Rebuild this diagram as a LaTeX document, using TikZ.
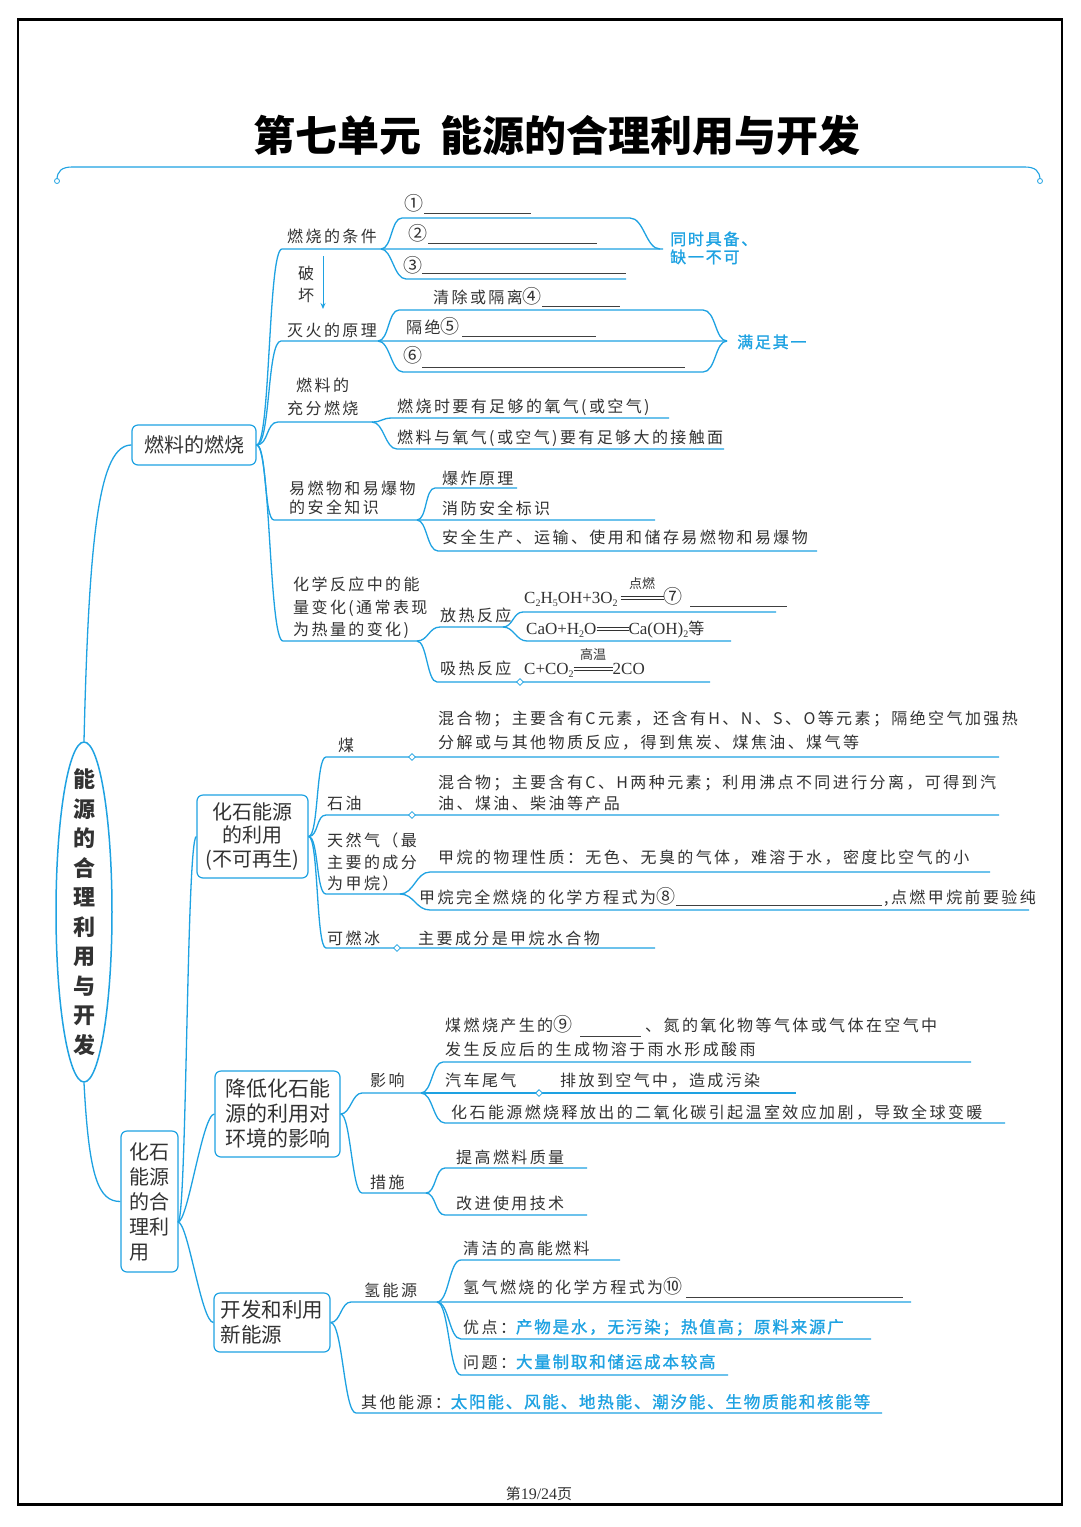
\documentclass[tikz,border=0pt]{standalone}
\usepackage{fontspec}
\setmainfont{Noto Sans CJK SC}
\newfontfamily\cjk{Noto Sans CJK SC}
\newfontfamily\bodyf[LetterSpace=15]{Noto Sans CJK SC}
\newfontfamily\bluef[LetterSpace=11,FakeBold=1.2]{Noto Sans CJK SC}
\newfontfamily\serf{Liberation Serif}
\usetikzlibrary{shapes.geometric,arrows.meta}
\definecolor{mb}{RGB}{30,162,226}
\definecolor{tc}{RGB}{50,50,50}
\newcommand\sbx[1]{\raisebox{-0.45ex}{\fontsize{10}{10}\selectfont #1}}
\newcommand\eqc[2]{\makebox[#1][l]{\rlap{\raisebox{0.42ex}{\rule{#1}{0.6pt}}}\rlap{\raisebox{0.85ex}{\rule{#1}{0.6pt}}}\raisebox{1.9ex}{\makebox[#1]{\fontsize{13}{13}\cjk #2}}}}
\newcommand\bl[1]{{\color{mb}\fontsize{16.5}{19}\bluef #1}}
\newcommand\cn[1]{{\fontsize{19}{19}\cjk #1}}
\begin{document}
\begin{tikzpicture}[x=1pt,y=-1pt,
  ln/.style={draw=mb,line width=1.3pt},
  bk/.style={draw=black!75,line width=0.9pt},
  t/.style={anchor=base west,inner sep=0,text=tc,font=\fontsize{16}{19}\bodyf},
  bt/.style={anchor=base west,inner sep=0,text=mb,font=\fontsize{16}{19}\bluef},
  eq/.style={anchor=base west,inner sep=0,text=tc,font=\fontsize{17}{20}\serf},
  bx/.style={draw=mb,line width=1.2pt,rounded corners=6pt,text=tc,font=\fontsize{20}{25}\cjk,inner sep=0},
  dm/.style={diamond,draw=mb,fill=white,line width=0.8pt,inner sep=0,minimum size=7pt}]
\useasboundingbox (0,0) rectangle (1080,1527);
\fill[white] (0,0) rectangle (1080,1527);
\draw[line width=2pt] (18,19) rectangle (1062,1505);
\draw[line width=1.5pt] (18,20.5) -- (1062,20.5) (18,1503.5) -- (1062,1503.5);

% title
\node[font=\fontsize{42}{48}\cjk\bfseries,text=black] (title) at (557,135) {第七单元\hspace{0.45em}能源的合理利用与开发};
\draw[ln,line width=1.1pt] (57,180) .. controls (57,171) and (62,167) .. (72,167) coordinate (tl) -- (1025,167) coordinate (tr) .. controls (1035,167) and (1040,171) .. (1040,180);
\draw[mb,line width=0.8pt,fill=white] (57,181) circle (2.5pt) (1040,181) circle (2.5pt);

% root
\node[ellipse,draw=mb,line width=1.5pt,minimum width=56pt,minimum height=340pt,inner sep=0] (root) at (84,912) {};
\node[font=\fontsize{22}{29.5}\cjk\bfseries,align=center,text=tc,inner sep=0] (rootlbl) at (root.center) {能\\源\\的\\合\\理\\利\\用\\与\\开\\发};

% ---------- fuel combustion ----------
\node[bx,minimum width=124pt,minimum height=40pt] (fuel) at (194,445) {燃料的燃烧};
\draw[ln] (root.north) .. controls +(5,-210) and +(-32,0) .. (fuel.west);

\draw[ln] (fuel.east) .. controls +(14,0) and +(-14,0) .. (282,249) coordinate (cA) -- (663,249) coordinate (cB);
\draw[ln] (fuel.east) .. controls +(14,0) and +(-14,0) .. (281,341) coordinate (eA) -- (727,341) coordinate (eB);
\draw[ln] (fuel.east) .. controls +(12,0) and +(-12,0) .. (278,422) coordinate (fA) -- (372,422) coordinate (fB);
\draw[ln] (fuel.east) .. controls +(10,0) and +(-10,0) .. (274,520) coordinate (sA) -- (655,520) coordinate (sB);
\draw[ln] (fuel.east) .. controls +(14,0) and +(-14,0) .. (283,641) coordinate (hA) -- (417,641) coordinate (hB);

% conditions bracket
\coordinate (cK) at (381,249);
\draw[ln] (cK) .. controls +(11,0) and +(-11,0) .. (402,218) -- (630,218) .. controls +(14,0) and +(-14,0) .. (660,249);
\draw[ln] (cK) .. controls +(11,0) and +(-12,0) .. (406,279) -- (626,279);
\node[t] (tcond) at (287,242) {燃烧的条件};
\node[t] (n1) at (404,210) {\cn{①}};
\node[t] (n2) at (408,240) {\cn{②}};
\node[t] (n3) at (403,272) {\cn{③}};
\draw[bk] (424,213) coordinate (b1a) -- (531,213) coordinate (b1b);
\draw[bk] (428,243) coordinate (b2a) -- (597,243) coordinate (b2b);
\draw[bk] (422,273) coordinate (b3a) -- (626,273) coordinate (b3b);
\node[bt] (blue1) at (670,245) {同时具备、};
\node[bt] (blue2) at (670,263) {缺一不可};

% destroy arrow
\node[t] (po) at (298,279) {破};
\node[t] (huai) at (298,301) {坏};
\draw[ln,line width=1pt,-{Stealth[length=6pt,width=5pt]}] (323,256) coordinate (arA) -- (323,309) coordinate (arB);

% extinguishing bracket
\node[t] (q4) at (433,303) {清除或隔离\cn{④}};
\draw[bk] (542,306) coordinate (b4a) -- (620,306) coordinate (b4b);
\coordinate (eK) at (378,341);
\draw[ln] (eK) .. controls +(11,0) and +(-11,0) .. (399,310) -- (703,310) .. controls +(13,0) and +(-12,0) .. (727,341);
\draw[ln] (eK) .. controls +(12,0) and +(-12,0) .. (403,372) -- (703,372) .. controls +(13,0) and +(-12,0) .. (727,341);
\node[t] (text) at (287,336) {灭火的原理};
\node[t] (q5) at (406,333) {隔绝\cn{⑤}};
\draw[bk] (462,336) coordinate (b5a) -- (596,336) coordinate (b5b);
\node[t] (n6) at (403,362) {\cn{⑥}};
\draw[bk] (422,367) coordinate (b6a) -- (685,367) coordinate (b6b);
\node[bt] (blue3) at (737,348) {满足其一};

% full combustion
\draw[ln] (fB) .. controls +(10,0) and +(-10,0) .. (392,418) -- (669,418);
\draw[ln] (fB) .. controls +(12,0) and +(-12,0) .. (397,449) -- (724,449);
\node[t] (ff1) at (296,391) {燃料的};
\node[t] (ff2) at (287,414) {充分燃烧};
\node[t] (ff3) at (397,412) {燃烧时要有足够的氧气(或空气)};
\node[t] (ff4) at (397,443) {燃料与氧气(或空气)要有足够大的接触面};

% safety
\coordinate (sK) at (417,520);
\draw[ln] (sK) .. controls +(10,0) and +(-10,0) .. (435,488) -- (517,488);
\draw[ln] (sK) .. controls +(10,0) and +(-11,0) .. (438,551) -- (817,551);
\node[t] (sf1) at (289,494) {易燃物和易爆物};
\node[t] (sf2) at (289,513) {的安全知识};
\node[t] (sf3) at (442,484) {爆炸原理};
\node[t] (sf4) at (442,514) {消防安全标识};
\node[t] (sf5) at (442,543) {安全生产、运输、使用和储存易燃物和易爆物};

% energy change
\draw[ln] (hB) .. controls +(11,0) and +(-11,0) .. (440,627) coordinate (fr1) -- (503,627) coordinate (fr2);
\draw[ln] (hB) .. controls +(10,0) and +(-10,0) .. (437,682) -- (710,682);
\draw[ln] (fr2) .. controls +(10,0) and +(-10,0) .. (523,612) -- (776,612);
\draw[ln] (fr2) .. controls +(11,0) and +(-11,0) .. (527,641) -- (731,641);
\node[t] (ch1) at (293,590) {化学反应中的能};
\node[t] (ch2) at (293,613) {量变化(通常表现};
\node[t] (ch3) at (293,635) {为热量的变化)};
\node[t] (fr) at (440,621) {放热反应};
\node[t] (xr) at (440,674) {吸热反应};
\node[eq] (eq1) at (524,603) {C\sbx{2}H\sbx{5}OH+3O\sbx{2}\hspace{3pt}\eqc{43pt}{点燃}\cn{⑦}};
\draw[bk] (690,606) coordinate (b7a) -- (787,606) coordinate (b7b);
\node[eq] (eq2) at (526,634) {CaO+H\sbx{2}O\eqc{32pt}{}Ca(OH)\sbx{2}{\fontsize{16}{19}\bodyf 等}};
\node[eq] (eq3) at (524,674) {C+CO\sbx{2}\eqc{39pt}{高温}2CO};
\node[dm] (d5) at (520,682) {};

% ---------- fossil fuels ----------
\node[bx,minimum width=111pt,minimum height=83pt,align=center,font=\fontsize{20}{23.5}\cjk] (fos) at (252.5,836.5) {化石能源\\的利用\\(不可再生)};
\node[bx,minimum width=125pt,minimum height=86pt,align=center,font=\fontsize{21}{25}\cjk] (env) at (277.5,1114) {降低化石能\\源的利用对\\环境的影响};
\node[bx,minimum width=116pt,minimum height=59pt,align=left,font=\fontsize{20.5}{25}\cjk] (new) at (272,1322.5) {开发和利用\\新能源};
\node[bx,minimum width=57pt,minimum height=141pt,align=left] (frm) at (149.5,1201.5) {化石\\能源\\的合\\理利\\用};
\draw[ln] (root.south) .. controls +(5,95) and +(-22,0) .. (frm.west);
\coordinate (frmK) at (178,1222);
\draw[ln] (frmK) .. controls +(9,0) and +(-10,0) .. (fos.west);
\draw[ln] (frmK) .. controls +(10,0) and +(-12,0) .. (env.west);
\draw[ln] (frmK) .. controls +(10,0) and +(-12,0) .. (new.west);

\draw[ln] (fos.east) .. controls +(10,0) and +(-10,0) .. (326,757) -- (999,757);
\draw[ln] (fos.east) .. controls +(10,0) and +(-10,0) .. (326,815) -- (999,815);
\draw[ln] (fos.east) .. controls +(10,0) and +(-10,0) .. (326,894) -- (400,894) coordinate (gK);
\draw[ln] (fos.east) .. controls +(10,0) and +(-10,0) .. (326,948) -- (655,948);
\draw[ln] (gK) .. controls +(14,0) and +(-14,0) .. (430,872) -- (990,872);
\draw[ln] (gK) .. controls +(14,0) and +(-14,0) .. (430,910) -- (1029,910);
\node[dm] (d1) at (412,757) {};
\node[dm] (d2) at (412,815) {};
\node[dm] (d3) at (397,948) {};

\node[t] (mei) at (338,751) {煤};
\node[t] (m1) at (438,724) {混合物；主要含有C元素，还含有H、N、S、O等元素；隔绝空气加强热};
\node[t] (m2) at (438,748) {分解或与其他物质反应，得到焦炭、煤焦油、煤气等};
\node[t] (sy) at (327,809) {石油};
\node[t] (s1) at (438,788) {混合物；主要含有C、H两种元素；利用沸点不同进行分离，可得到汽};
\node[t] (s2) at (438,809) {油、煤油、柴油等产品};
\node[t] (tr1) at (327,846) {天然气（最};
\node[t] (tr2) at (327,868) {主要的成分};
\node[t] (tr3) at (327,889) {为甲烷）};
\node[t] (tr4) at (438,863) {甲烷的物理性质：无色、无臭的气体，难溶于水，密度比空气的小};
\node[t] (tr5) at (419,903) {甲烷完全燃烧的化学方程式为\cn{⑧}};
\draw[bk] (676,905) coordinate (b8a) -- (882,905) coordinate (b8b);
\node[t] (tr6) at (884,903) {,点燃甲烷前要验纯};
\node[t] (kr) at (327,944) {可燃冰};
\node[t] (kr2) at (418,944) {主要成分是甲烷水合物};

% ---------- environment ----------
\draw[ln] (env.east) .. controls +(10,0) and +(-10,0) .. (362,1093) -- (421,1093) coordinate (yK);
\draw[ln] (env.east) .. controls +(10,0) and +(-10,0) .. (362,1193) -- (426,1193) coordinate (zK);
\draw[ln] (yK) .. controls +(11,0) and +(-11,0) .. (443,1062) -- (971,1062);
\draw[ln] (yK) -- (796,1093) coordinate (yE);
\draw[ln] (yK) .. controls +(12,0) and +(-12,0) .. (445,1123) -- (1005,1123);
\draw[ln] (zK) .. controls +(10,0) and +(-10,0) .. (445,1168) -- (587,1168);
\draw[ln] (zK) .. controls +(10,0) and +(-10,0) .. (445,1215) -- (587,1215);
\node[dm] (d4) at (539,1093) {};
\node[t] (yx) at (370,1086) {影响};
\node[t] (e1) at (445,1031) {煤燃烧产生的\cn{⑨}};
\draw[bk] (580,1036) coordinate (b9a) -- (641,1036) coordinate (b9b);
\node[t] (e1b) at (645,1031) {、氮的氧化物等气体或气体在空气中};
\node[t] (e2) at (445,1055) {发生反应后的生成物溶于雨水形成酸雨};
\node[t] (e3) at (445,1086) {汽车尾气};
\node[t] (e4) at (560,1086) {排放到空气中，造成污染};
\node[t] (e5) at (451,1118) {化石能源燃烧释放出的二氧化碳引起温室效应加剧，导致全球变暖};
\node[t] (cs) at (370,1188) {措施};
\node[t] (c1) at (456,1163) {提高燃料质量};
\node[t] (c2) at (456,1209) {改进使用技术};

% ---------- new energy ----------
\draw[ln] (new.east) .. controls +(10,0) and +(-10,0) .. (351,1302) -- (911,1302);
\coordinate (qK) at (437,1302);
\draw[ln] (qK) .. controls +(12,0) and +(-12,0) .. (461,1260) -- (620,1260);
\draw[ln] (qK) .. controls +(12,0) and +(-12,0) .. (461,1339) -- (871,1339);
\draw[ln] (qK) .. controls +(12,0) and +(-12,0) .. (461,1375) -- (728,1375);
\draw[ln] (new.east) .. controls +(12,0) and +(-12,0) .. (356,1413) -- (882,1413);
\node[t] (qn) at (364,1296) {氢能源};
\node[t] (h1) at (463,1254) {清洁的高能燃料};
\node[t] (h2) at (463,1293) {氢气燃烧的化学方程式为\cn{⑩}};
\draw[bk] (686,1297) coordinate (b10a) -- (903,1297) coordinate (b10b);
\node[t] (h3) at (463,1333) {优点：\bl{产物是水，无污染；热值高；原料来源广}};
\node[t] (h4) at (463,1368) {问题：\bl{大量制取和储运成本较高}};
\node[t] (ot) at (361,1408) {其他能源：\bl{太阳能、风能、地热能、潮汐能、生物质能和核能等}};

% page number
\node[text=tc,inner sep=0] (page) at (539,1494) {{\fontsize{15}{17}\cjk 第}{\fontsize{16}{17}\serf 19/24}{\fontsize{15}{17}\cjk 页}};
\end{tikzpicture}
\end{document}
